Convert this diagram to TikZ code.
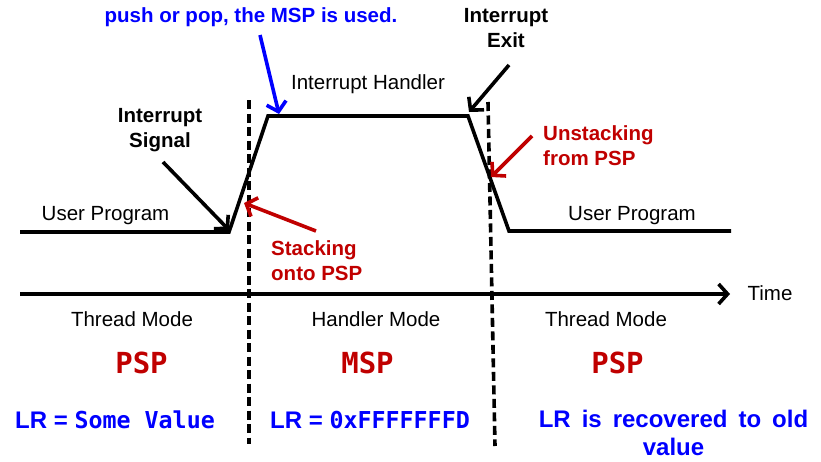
\documentclass[tikz,border=0pt]{standalone}
\usepackage{fontspec}
\setmainfont{Liberation Sans}
\setmonofont{DejaVu Sans Mono}
\usetikzlibrary{arrows.meta}
\definecolor{dred}{RGB}{192,0,0}
\definecolor{pblue}{RGB}{0,0,255}
\tikzset{
  wave/.style={line width=3.6pt, line join=miter, line cap=butt},
  guide/.style={line width=3.6pt, dash pattern=on 9pt off 4.5pt},
  ptr/.style={line width=3.6pt, -{Straight Barb[length=9pt,width=20pt,line width=3.6pt]}},
  plain/.style={font=\fontsize{20.5}{25}\selectfont, inner sep=0pt},
  lbl/.style={font=\fontsize{20.5}{25}\selectfont\bfseries, inner sep=0pt, align=center},
  stk/.style={font=\fontsize{29}{32}\selectfont\ttfamily\bfseries, text=dred, inner sep=0pt},
  lr/.style={font=\fontsize{24}{28}\selectfont\bfseries, text=pblue, inner sep=0pt},
}
\newcommand{\mono}[1]{{\fontsize{23.3}{28}\selectfont\ttfamily\bfseries #1}}
\begin{document}
\begin{tikzpicture}[x=1pt,y=-1pt]
\useasboundingbox (0,0) rectangle (821,461);
% waveform corners
\coordinate (w0) at (20,232);
\coordinate (w1) at (229,232);
\coordinate (w2) at (268,116);
\coordinate (w3) at (468,116);
\coordinate (w4) at (509,231);
\coordinate (w5) at (731,231);
\draw[wave] (w0) -- (w1) -- (w2) -- (w3) -- (w4) -- (w5);
% dashed guides
\coordinate (d1t) at (249,100);
\coordinate (d1b) at (249,444);
\coordinate (d2t) at (488,102);
\coordinate (d2b) at (495,446);
\draw[guide] (d1t) -- (d1b);
\draw[guide] (d2t) -- (d2b);
% time axis
\coordinate (t0) at (20,294);
\coordinate (t1) at (730,294);
\draw[ptr] (t0) -- (t1);
\node[plain, anchor=base] (time) at (770,300) {Time};
% labels on waveform
\node[plain, anchor=base] (up1) at (105.5,220) {User Program};
\node[plain, anchor=base] (up2) at (632,220) {User Program};
\node[plain, anchor=base] (ih) at (368,89) {Interrupt Handler};
% mode labels
\node[plain, anchor=base] (tm1) at (132,326) {Thread Mode};
\node[plain, anchor=base] (hm) at (376,326) {Handler Mode};
\node[plain, anchor=base] (tm2) at (606,326) {Thread Mode};
% stack pointers
\node[stk, anchor=base] (psp1) at (141.5,373) {PSP};
\node[stk, anchor=base] (msp) at (367.5,373) {MSP};
\node[stk, anchor=base] (psp2) at (617.5,373) {PSP};
% LR
\node[lr, anchor=base west] (lr1) at (15,428) {LR = \mono{Some Value}};
\node[lr, anchor=base west] (lr2) at (270,428) {LR = \mono{0xFFFFFFFD}};
\node[lr, align=center, anchor=north] (lr3) at (673.5,410) {\spaceskip=11pt plus 0pt LR is recovered to old\\value};
% annotation labels
\node[lbl] (sig) at (160,130.5) {Interrupt\\Signal};
\node[lbl] (exit) at (506,28.5) {Interrupt\\Exit};
\node[lbl, text=dred, align=left, anchor=west] (unstk) at (543,145.5) {Unstacking\\from PSP};
\node[lbl, text=dred, align=left, anchor=west] (stk) at (271,261) {Stacking\\onto PSP};
\node[lbl, text=pblue, anchor=base] (msp note) at (251,22) {push or pop, the MSP is used.};
% annotation arrows
\coordinate (a1s) at (260,35);   \coordinate (a1e) at (279,114);
\coordinate (a2s) at (163,162);  \coordinate (a2e) at (229,230);
\coordinate (a3s) at (316,231);  \coordinate (a3e) at (244,203);
\coordinate (a4s) at (509,65);   \coordinate (a4e) at (469,112);
\coordinate (a5s) at (532,136);  \coordinate (a5e) at (491,177);
\draw[ptr, pblue] (a1s) -- (a1e);
\draw[ptr] (a2s) -- (a2e);
\draw[ptr, dred] (a3s) -- (a3e);
\draw[ptr] (a4s) -- (a4e);
\draw[ptr, dred] (a5s) -- (a5e);
\end{tikzpicture}
\end{document}
